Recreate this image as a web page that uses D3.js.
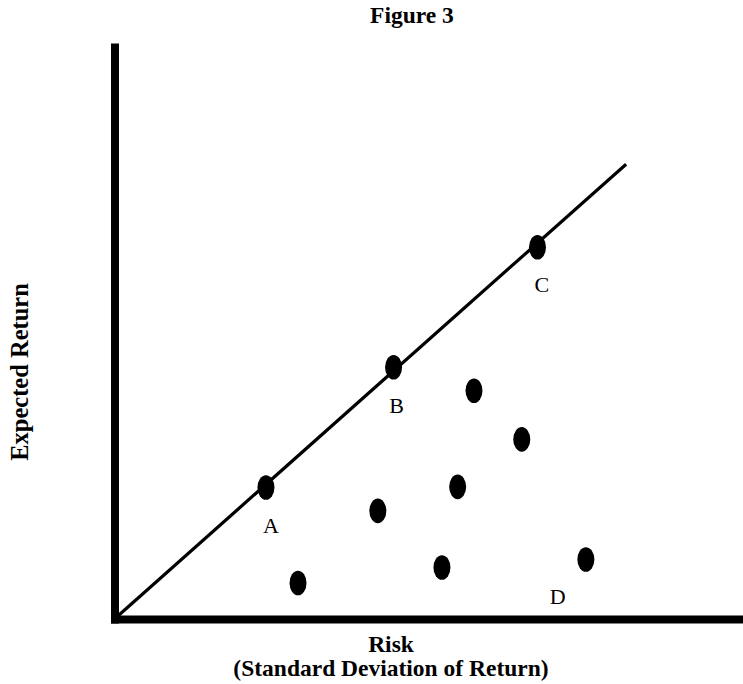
<!DOCTYPE html>
<html>
<head>
<meta charset="utf-8">
<script src="https://cdn.jsdelivr.net/npm/d3@7"></script>
<style>
  body { margin: 0; background: #fff; }
  svg text { font-family: "Liberation Serif", "Times New Roman", serif; fill: #000; }
</style>
</head>
<body>
<svg id="chart"></svg>
<script>
// point data (risk, expected return) in chart units 0..100
var pointRisk   = [24.1, 44.4, 67.3, 57.2, 64.8, 54.6, 41.9, 29.2, 52.1, 75.0];
var pointReturn = [23.0, 44.0, 65.0, 39.9, 31.4, 23.1, 18.9, 6.3, 9.0, 10.4];

// the straight line from the origin
var lineRisk   = [0, 81.4];
var lineReturn = [0, 79.5];

// point labels
var labelNames  = ["A", "B", "C", "D"];
var labelRisk   = [24.9, 44.9, 68.0, 70.5];
var labelReturn = [16.4, 37.3, 58.4, 3.9];

var WIDTH = 743;
var HEIGHT = 684;

var svg = d3.select("#chart")
    .attr("width", WIDTH)
    .attr("height", HEIGHT);

var x = d3.scaleLinear().domain([0, 100]).range([114.5, 743]);
var y = d3.scaleLinear().domain([0, 100]).range([619, 47]);

// axes: plain thick lines, no ticks
svg.append("g")
    .attr("transform", "translate(0," + y(0) + ")")
    .call(d3.axisBottom(x).ticks(0).tickSize(0).tickSizeOuter(0));
svg.append("g")
    .attr("transform", "translate(" + x(0) + ",0)")
    .call(d3.axisLeft(y).ticks(0).tickSize(0).tickSizeOuter(0));
svg.selectAll(".domain")
    .attr("stroke", "#000")
    .attr("stroke-width", 8)
    .attr("stroke-linecap", "square");

var lineData = lineRisk.map(function(d, i){ return [d, lineReturn[i]]; });
svg.append("path")
    .datum(lineData)
    .attr("d", d3.line().x(function(d){ return x(d[0]); }).y(function(d){ return y(d[1]); }))
    .attr("fill", "none")
    .attr("stroke", "#000")
    .attr("stroke-width", 3.2);

svg.selectAll("ellipse.pt")
    .data(pointRisk)
    .enter()
    .append("ellipse")
    .attr("class", "pt")
    .attr("cx", function(d){ return x(d); })
    .attr("cy", function(d, i){ return y(pointReturn[i]); })
    .attr("rx", 8.5)
    .attr("ry", 12.3)
    .attr("fill", "#000");

svg.selectAll("text.lbl")
    .data(labelNames)
    .enter()
    .append("text")
    .attr("class", "lbl")
    .attr("x", function(d, i){ return x(labelRisk[i]); })
    .attr("y", function(d, i){ return y(labelReturn[i]); })
    .attr("dy", "0.34em")
    .attr("text-anchor", "middle")
    .style("font-size", "22px")
    .text(function(d){ return d; });

// titles
svg.append("text")
    .attr("x", 412)
    .attr("y", 23)
    .attr("text-anchor", "middle")
    .style("font-size", "23.5px")
    .style("font-weight", "bold")
    .text("Figure 3");

svg.append("text")
    .attr("x", 391)
    .attr("y", 652)
    .attr("text-anchor", "middle")
    .style("font-size", "23.5px")
    .style("font-weight", "bold")
    .text("Risk");

svg.append("text")
    .attr("x", 391)
    .attr("y", 676)
    .attr("text-anchor", "middle")
    .style("font-size", "23.5px")
    .style("font-weight", "bold")
    .text("(Standard Deviation of Return)");

svg.append("text")
    .attr("transform", "translate(28,372) rotate(-90)")
    .attr("text-anchor", "middle")
    .style("font-size", "24.5px")
    .style("font-weight", "bold")
    .text("Expected Return");
</script>
</body>
</html>
